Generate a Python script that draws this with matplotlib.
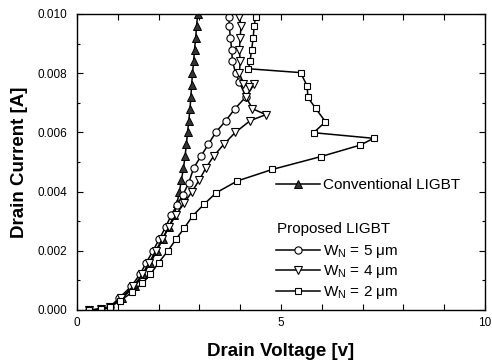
import matplotlib
matplotlib.use("Agg")
import matplotlib.pyplot as plt
from matplotlib.ticker import MultipleLocator, FixedLocator, FuncFormatter

plt.rcParams['font.family'] = ['Liberation Sans', 'DejaVu Sans']
plt.rcParams['mathtext.fontset'] = 'custom'
plt.rcParams['mathtext.rm'] = 'Liberation Sans'

# Conventional LIGBT
conv_v = [0.3, 0.6, 0.8, 1.1, 1.42, 1.62, 1.8, 1.96, 2.1, 2.25, 2.38, 2.45, 2.51, 2.56,
          2.61, 2.65, 2.68, 2.71, 2.74, 2.77, 2.79, 2.81, 2.83, 2.86, 2.88, 2.91, 2.93, 2.96, 2.98]
conv_i = [0.0, 0.00002, 0.0001, 0.0004, 0.0008, 0.0012, 0.0016, 0.0020, 0.0024, 0.0028, 0.0032,
          0.0036, 0.0040, 0.0044, 0.0048, 0.0052, 0.0056, 0.0060, 0.0064, 0.0068, 0.0072, 0.0076,
          0.0080, 0.0084, 0.0088, 0.0092, 0.0096, 0.0100, 0.0103]

# Proposed LIGBT, W_N = 5 um
w5_v = [0.3, 0.6, 0.8, 1.03, 1.33, 1.54, 1.70, 1.86, 2.02, 2.17, 2.31, 2.45, 2.60, 2.74, 2.86,
        3.04, 3.22, 3.40, 3.65, 3.87, 4.14, 3.98, 3.89, 3.81, 3.79, 3.76, 3.73, 3.73, 3.70]
w5_i = [0.0, 0.00003, 0.0001, 0.0004, 0.0008, 0.0012, 0.0016, 0.0020, 0.0024, 0.0028, 0.0032,
        0.00355, 0.0039, 0.0043, 0.0048, 0.0052, 0.0056, 0.0060, 0.0064, 0.0068, 0.0072, 0.0077,
        0.0080, 0.0084, 0.0088, 0.0092, 0.0096, 0.0099, 0.0103]

# Proposed LIGBT, W_N = 4 um
w4_v = [0.3, 0.6, 0.8, 1.08, 1.38, 1.60, 1.77, 1.93, 2.09, 2.25, 2.42, 2.62, 2.82, 3.00, 3.16,
        3.35, 3.60, 3.88, 4.25, 4.63, 4.30, 4.14, 4.34, 4.22, 4.08, 3.98, 4.00, 3.98, 4.00, 4.02,
        3.98, 3.95]
w4_i = [0.0, 0.00003, 0.0001, 0.0004, 0.0008, 0.0012, 0.0016, 0.0020, 0.0024, 0.0028, 0.0032,
        0.0036, 0.0040, 0.0044, 0.0048, 0.0052, 0.0056, 0.0060, 0.0064, 0.0066, 0.0068, 0.0072,
        0.00762, 0.00752, 0.00765, 0.0080, 0.0084, 0.0088, 0.0092, 0.0096, 0.0099, 0.0103]

# Proposed LIGBT, W_N = 2 um
w2_v = [0.3, 0.6, 0.8, 1.05, 1.35, 1.60, 1.80, 2.00, 2.23, 2.43, 2.63, 2.84, 3.12, 3.41, 3.93,
        4.79, 5.97, 6.94, 7.27, 5.80, 6.09, 5.85, 5.66, 5.64, 5.48, 4.20, 4.24, 4.28, 4.32, 4.34,
        4.38, 4.40]
w2_i = [0.0, 0.00003, 0.0001, 0.0003, 0.0006, 0.0009, 0.0012, 0.0016, 0.0020, 0.0024, 0.00277,
        0.00319, 0.00358, 0.00396, 0.00436, 0.00475, 0.00518, 0.00557, 0.0058, 0.00599, 0.00636,
        0.00681, 0.00718, 0.00757, 0.00802, 0.00815, 0.0084, 0.0088, 0.0092, 0.0096, 0.0099, 0.0103]

x_labels = {0: '0', 5: '5', 10: '10'}
y_ticks = [0.000, 0.002, 0.004, 0.006, 0.008, 0.010]

fig = plt.figure(figsize=(4.92, 3.63), dpi=100)
ax = fig.add_axes([77/492, 1-310/363, 408/492, 296/363])

ms = 5.2
lc = ax.plot(conv_v, conv_i, '-', color='black', lw=1.1, marker='^', ms=ms,
             mfc='#333333', mec='black', mew=0.7, label='Conventional LIGBT')[0]
l5 = ax.plot(w5_v, w5_i, '-', color='black', lw=1.1, marker='o', ms=ms,
             mfc='white', mec='black', mew=0.8, label='W$_\\mathregular{N}$ = 5 μm')[0]
l4 = ax.plot(w4_v, w4_i, '-', color='black', lw=1.1, marker='v', ms=ms + 0.5,
             mfc='white', mec='black', mew=0.8, label='W$_\\mathregular{N}$ = 4 μm')[0]
l2 = ax.plot(w2_v, w2_i, '-', color='black', lw=1.1, marker='s', ms=ms - 0.4,
             mfc='white', mec='black', mew=0.8, label='W$_\\mathregular{N}$ = 2 μm')[0]

ax.set_xlim(0, 10)
ax.set_ylim(0, 0.010)
ax.xaxis.set_major_locator(MultipleLocator(1))
ax.xaxis.set_major_formatter(FuncFormatter(lambda v, p: x_labels.get(int(round(v)), '') if abs(v - round(v)) < 1e-6 else ''))
ax.yaxis.set_major_locator(FixedLocator(y_ticks))
ax.yaxis.set_minor_locator(MultipleLocator(0.001))
ax.yaxis.set_major_formatter(FuncFormatter(lambda v, p: f'{v:.3f}'))
ax.tick_params(which='both', direction='in', top=True, right=True, labelsize=8.5, width=0.8)
ax.tick_params(which='major', length=4)
ax.tick_params(which='minor', length=2.5)
ax.tick_params(axis='y', which='major', pad=7)
ax.tick_params(axis='x', which='major', pad=5)
for s in ax.spines.values():
    s.set_linewidth(1.0)

ax.set_xlabel('Drain Voltage [v]', fontsize=13.5, fontweight='bold', labelpad=10)
ax.set_ylabel('Drain Current [A]', fontsize=13.5, fontweight='bold', labelpad=7)

leg1 = ax.legend(handles=[lc], loc='center left', bbox_to_anchor=(276/492, 1-185/363),
                 bbox_transform=fig.transFigure, frameon=False, fontsize=11,
                 handlelength=2.9, handletextpad=0.2, borderpad=0, borderaxespad=0)
ax.add_artist(leg1)
fig.text(277/492, 1-229/363, 'Proposed LIGBT', fontsize=11, va='center', ha='left')
leg2 = ax.legend(handles=[l5, l4, l2], loc='center left', bbox_to_anchor=(276/492, 1-272/363),
                 bbox_transform=fig.transFigure, frameon=False, fontsize=11,
                 handlelength=2.9, handletextpad=0.2, borderpad=0, borderaxespad=0,
                 labelspacing=0.22)

fig.savefig('out.png', dpi=100)
